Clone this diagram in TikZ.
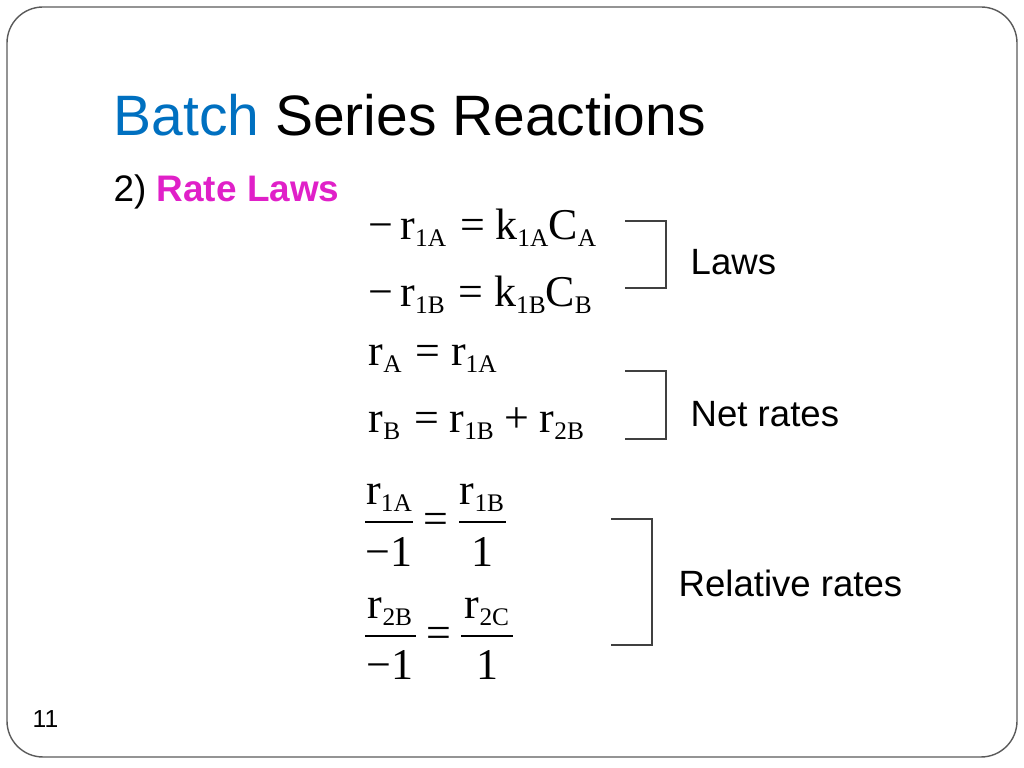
\documentclass[tikz,border=0pt]{standalone}
\usepackage{fontspec}
\setmainfont{Liberation Sans}
\newfontfamily\eqfont{Liberation Serif}
\definecolor{batchblue}{RGB}{0,112,192}
\definecolor{ratepink}{RGB}{224,32,200}
\definecolor{framegray}{RGB}{90,90,90}
\definecolor{bracketgray}{RGB}{64,64,64}
\newcommand\sbs[1]{\raisebox{-1.8pt}{\fontsize{7.2}{8}\selectfont #1}}
\tikzset{
    eq/.style={font=\eqfont\fontsize{12.5}{14}\selectfont, inner sep=0pt, anchor=base west},
    eqc/.style={eq, anchor=base},
    lbl/.style={font=\fontsize{10.4}{12}\selectfont, inner sep=0pt, anchor=base west},
    bracket/.style={draw=bracketgray, line width=0.4pt},
    fracbar/.style={draw=black, line width=0.4pt},
}
\begin{document}
\begin{tikzpicture}[x=0.01cm,y=-0.01cm]
        \useasboundingbox (0,0) rectangle (1024,768);
        \draw[framegray, line width=0.4pt, rounded corners=0.36cm] (7,7) rectangle (1017,757);
        % heading
        \node[anchor=base west, inner sep=0pt, font=\fontsize{16.2}{19}\selectfont] (title) at (113,136)
            {\textcolor{batchblue}{Batch} Series Reactions};
        \node[anchor=base west, inner sep=0pt, font=\fontsize{10.5}{12}\selectfont] (part) at (113,202)
            {2) \textcolor{ratepink}{\bfseries Rate Laws}};
        % rate laws and net rates
        \node[eq] (lawA) at (368,240) {−\hspace{2pt}r\sbs{1A}\hspace{4pt}=\hspace{3pt}k\sbs{1A}C\sbs{A}};
        \node[eq] (lawB) at (368,307) {−\hspace{2pt}r\sbs{1B}\hspace{4pt}=\hspace{3pt}k\sbs{1B}C\sbs{B}};
        \node[eq] (netA) at (368,366) {r\sbs{A}\hspace{4pt}=\hspace{3pt}r\sbs{1A}};
        \node[eq] (netB) at (368,433) {r\sbs{B}\hspace{4pt}=\hspace{3pt}r\sbs{1B}\hspace{3pt}+\hspace{3pt}r\sbs{2B}};
        % relative rates
        \node[eqc] (numA) at (389,505) {r\sbs{1A}};
        \node[eqc] (denA) at (389,567) {−1};
        \node[eq, anchor=center] (eqlA) at (436,523) {=};
        \node[eqc] (numB) at (482,505) {r\sbs{1B}};
        \node[eqc] (denB) at (482,567) {1};
        \draw[fracbar] (365,522) -- (413,522);
        \draw[fracbar] (459,522) -- (506,522);
        \node[eqc] (numC) at (390,619) {r\sbs{2B}};
        \node[eqc] (denC) at (390,680) {−1};
        \node[eq, anchor=center] (eqlB) at (439,637) {=};
        \node[eqc] (numD) at (487,619) {r\sbs{2C}};
        \node[eqc] (denD) at (487,680) {1};
        \draw[fracbar] (365,636) -- (416,636);
        \draw[fracbar] (461,636) -- (513,636);
        % brackets
        \foreach \l/\r/\t/\b in {625/666/221/288, 625/666/371/439, 611/652/519/645}
            \draw[bracket] (\l,\t) -- (\r,\t) -- (\r,\b) -- (\l,\b);
        \node[lbl] (laws) at (690,275) {Laws};
        \node[lbl] (net) at (690,427) {Net rates};
        \node[lbl] (rel) at (678,597) {Relative rates};
        \node[anchor=base west, inner sep=0pt, font=\fontsize{7}{8}\selectfont] (pagenum) at (32,728) {11};
\end{tikzpicture}
\end{document}
